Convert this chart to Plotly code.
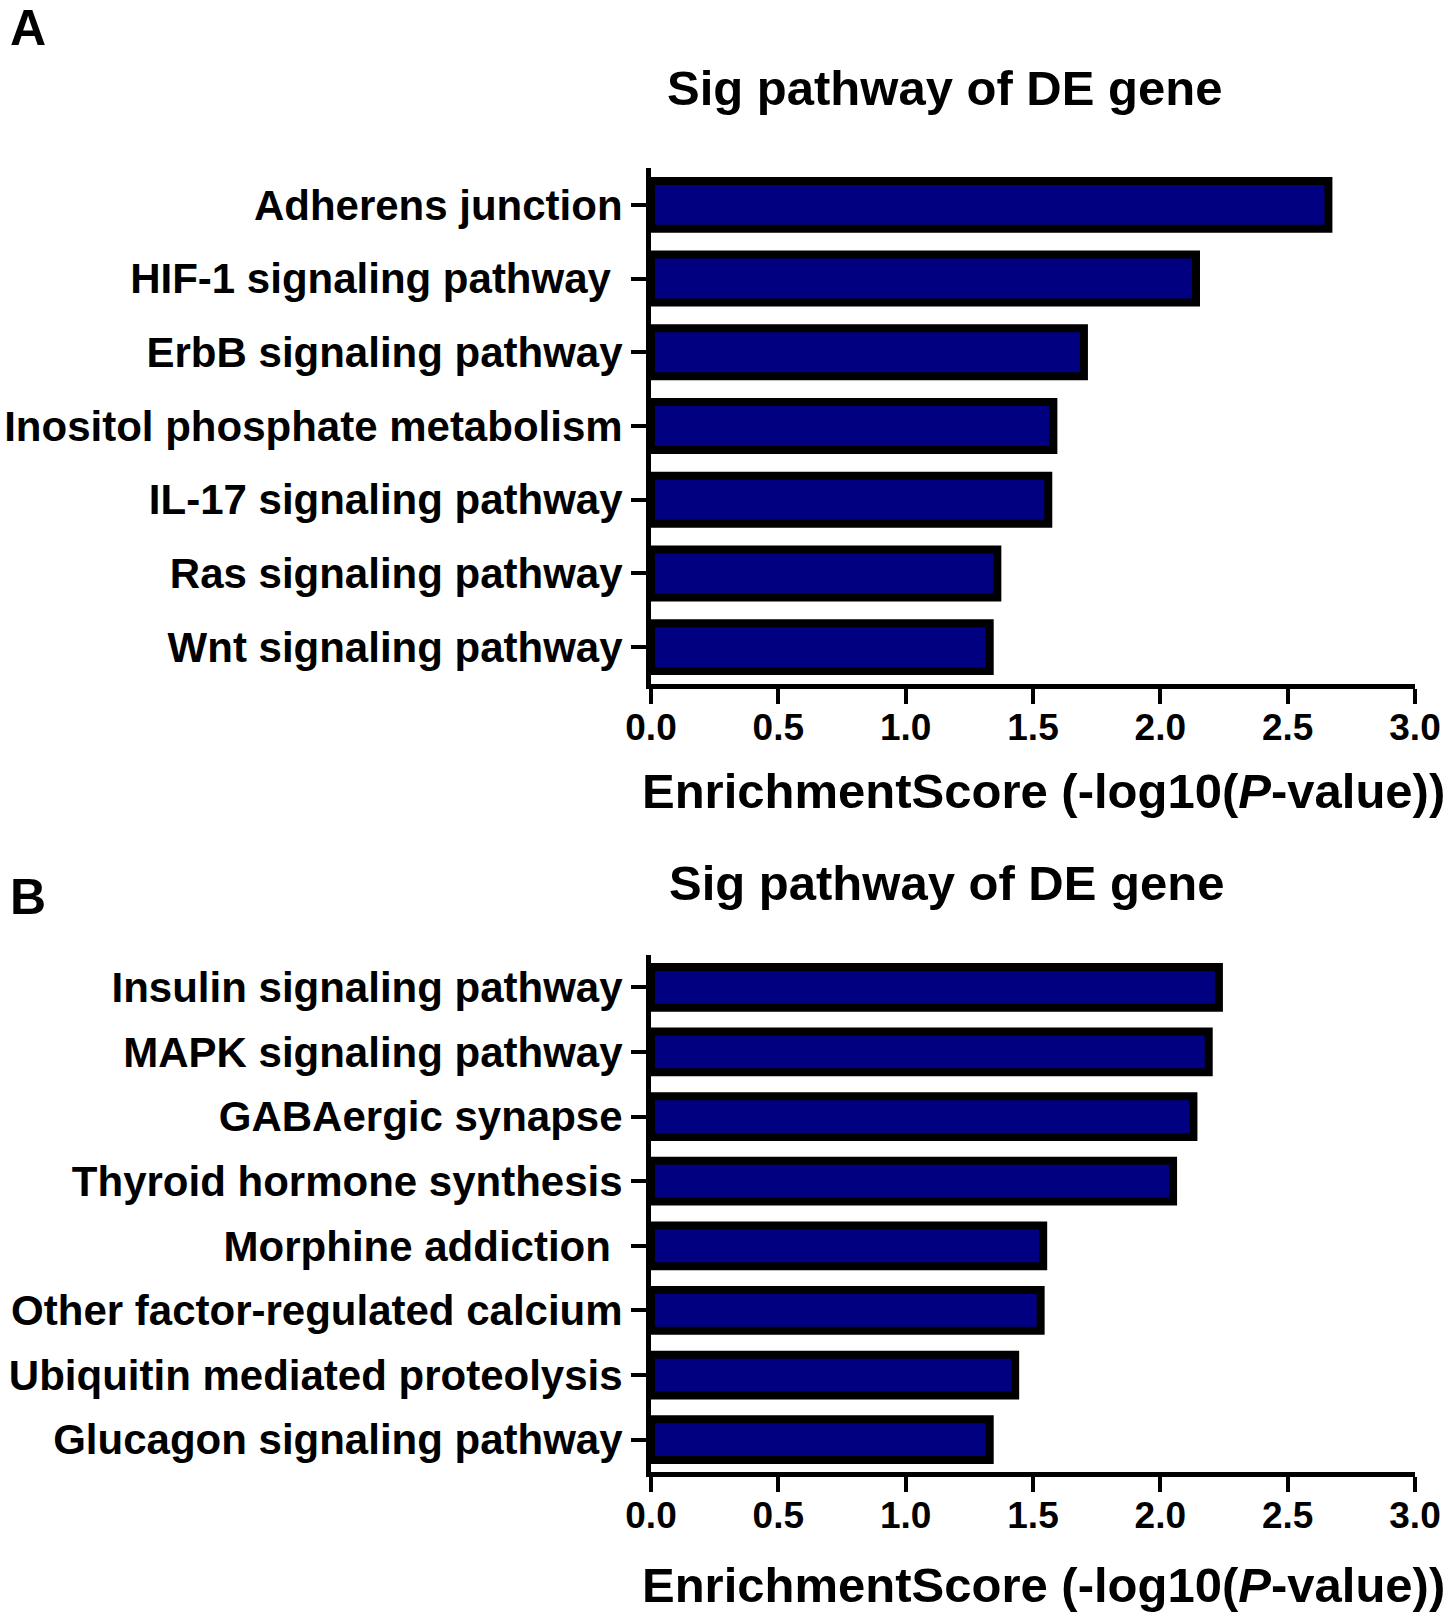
import plotly.graph_objects as go

# Panel A
paths_a = ['Adherens junction', 'HIF-1 signaling pathway', 'ErbB signaling pathway',
           'Inositol phosphate metabolism', 'IL-17 signaling pathway',
           'Ras signaling pathway', 'Wnt signaling pathway']
labels_a = ['Adherens junction', 'HIF-1 signaling pathway\u00a0', 'ErbB signaling pathway',
            'Inositol phosphate metabolism', 'IL-17 signaling pathway',
            'Ras signaling pathway', 'Wnt signaling pathway']
score_a = [2.66, 2.14, 1.70, 1.58, 1.56, 1.36, 1.33]

# Panel B
paths_b = ['Insulin signaling pathway', 'MAPK signaling pathway', 'GABAergic synapse',
           'Thyroid hormone synthesis', 'Morphine addiction',
           'Other factor-regulated calcium', 'Ubiquitin mediated proteolysis',
           'Glucagon signaling pathway']
labels_b = ['Insulin signaling pathway', 'MAPK signaling pathway', 'GABAergic synapse',
            'Thyroid hormone synthesis', 'Morphine addiction\u00a0',
            'Other factor-regulated calcium', 'Ubiquitin mediated proteolysis',
            'Glucagon signaling pathway']
score_b = [2.23, 2.19, 2.13, 2.05, 1.54, 1.53, 1.43, 1.33]

x_ticks = [0.0, 0.5, 1.0, 1.5, 2.0, 2.5, 3.0]
x_ticklabels = ['0.0', '0.5', '1.0', '1.5', '2.0', '2.5', '3.0']

W, H = 1447, 1617
FONT = 'Arial, Liberation Sans, sans-serif'
NAVY = '#000080'


def px_x(px):
    return px / W


def px_y(px):
    return 1 - px / H


fig = go.Figure()
fig.add_trace(go.Bar(x=score_a, y=paths_a, orientation='h', width=0.65,
                     marker=dict(color=NAVY, line=dict(color='black', width=8)),
                     xaxis='x', yaxis='y', showlegend=False))
fig.add_trace(go.Bar(x=score_b, y=paths_b, orientation='h', width=0.63,
                     marker=dict(color=NAVY, line=dict(color='black', width=8)),
                     xaxis='x2', yaxis='y2', showlegend=False))

xdom = [px_x(651), px_x(1415)]
xaxis_style = dict(range=[0, 3.0], tickvals=x_ticks, ticktext=x_ticklabels,
                   showline=True, linewidth=5, linecolor='black',
                   ticks='outside', ticklen=15, tickwidth=4, tickcolor='black',
                   showgrid=False, zeroline=False, automargin=False, ticklabelstandoff=-8,
                   tickfont=dict(family=FONT, size=37, color='black', weight='bold'))
yaxis_style = dict(showline=True, linewidth=5, linecolor='black',
                   ticks='outside', ticklen=15, tickwidth=4, tickcolor='black',
                   showgrid=False, zeroline=False, automargin=False, ticklabelstandoff=0,
                   tickfont=dict(family=FONT, size=42, color='black', weight='bold'))

fig.update_layout(
    width=W, height=H,
    margin=dict(l=0, r=0, t=0, b=0),
    plot_bgcolor='white', paper_bgcolor='white',
    xaxis=dict(domain=xdom, anchor='y', **xaxis_style),
    yaxis=dict(domain=[px_y(684), px_y(168)], anchor='x', type='category',
               range=[6.5, -0.5], tickvals=paths_a, ticktext=labels_a, **yaxis_style),
    xaxis2=dict(domain=xdom, anchor='y2', **xaxis_style),
    yaxis2=dict(domain=[px_y(1472), px_y(955)], anchor='x2', type='category',
                range=[7.5, -0.5], tickvals=paths_b, ticktext=labels_b, **yaxis_style),
)

big_font = dict(family=FONT, size=49, color='black', weight='bold')
letter_font = dict(family=FONT, size=50, color='black', weight='bold')
xtitle_text = 'EnrichmentScore (-log10(<i>P</i>-value))'

# titles, axis titles and panel letters
for text, x, y, font in [('Sig pathway of DE gene', 944, 88, big_font),
                         ('Sig pathway of DE gene', 946, 883, big_font),
                         (xtitle_text, 1043, 791, big_font),
                         (xtitle_text, 1043, 1585, big_font)]:
    fig.add_annotation(text=text, x=px_x(x), y=px_y(y), xref='paper', yref='paper',
                       xanchor='center', yanchor='middle', showarrow=False, font=font)
fig.add_annotation(text='A', x=px_x(8), y=px_y(28), xref='paper', yref='paper',
                   xanchor='left', yanchor='middle', showarrow=False, font=letter_font)
fig.add_annotation(text='B', x=px_x(8), y=px_y(897), xref='paper', yref='paper',
                   xanchor='left', yanchor='middle', showarrow=False, font=letter_font)

# drop the default body margin so the figure sits at the page corner
fig.write_html('out.html', config={'displayModeBar': False},
               post_script="document.body.style.margin='0';")
